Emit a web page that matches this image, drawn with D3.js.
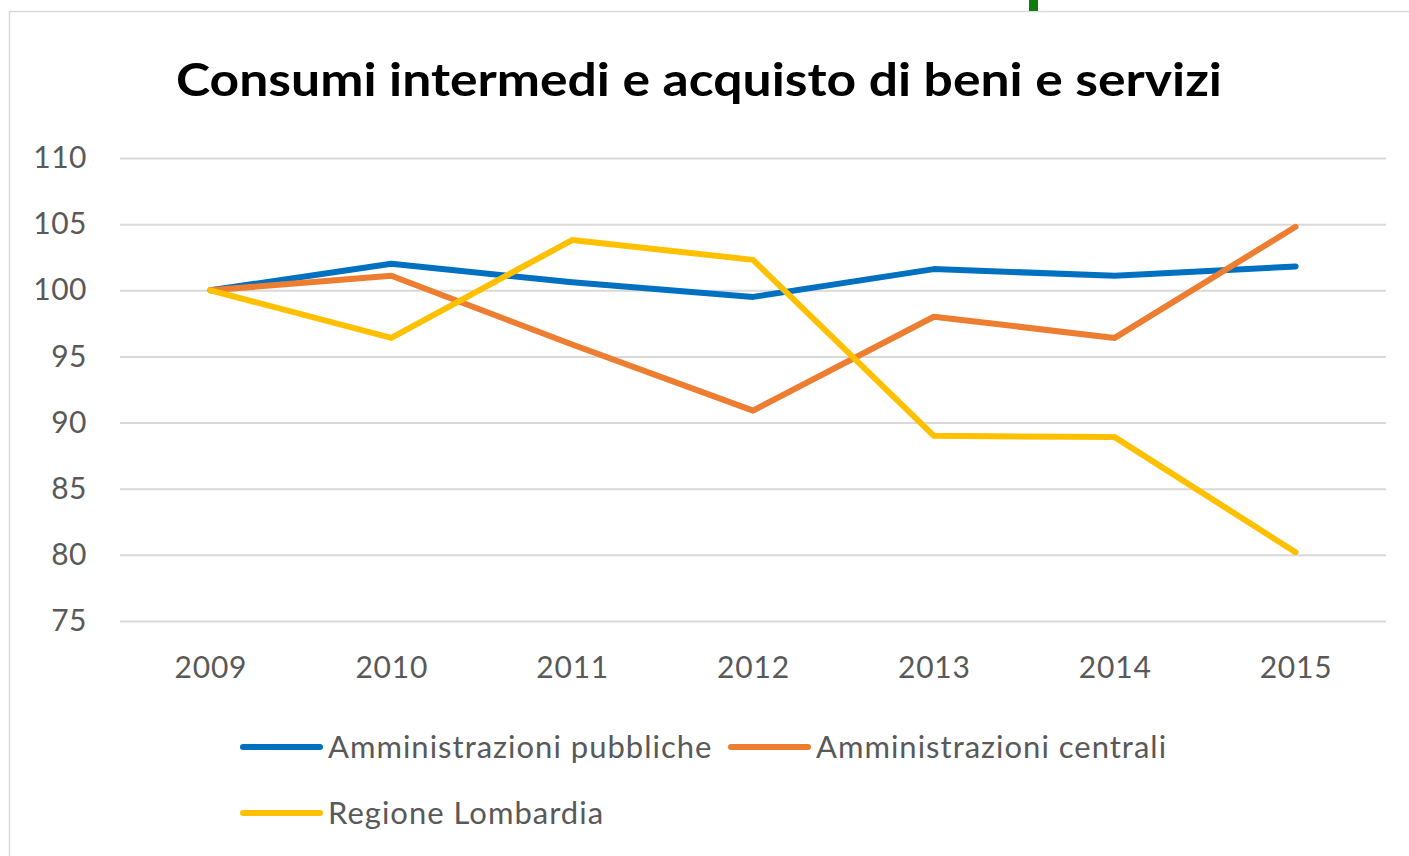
<!DOCTYPE html>
<html>
<head>
<meta charset="utf-8">
<script src="https://cdn.jsdelivr.net/npm/d3@7"></script>
<style>
  html, body { margin: 0; padding: 0; background: #fff; }
  svg { display: block; font-family: Lato, "Open Sans", sans-serif; }
</style>
</head>
<body>
<svg id="chart" width="1409" height="856"></svg>
<script>
// values
const years = ["2009", "2010", "2011", "2012", "2013", "2014", "2015"];
const pubbliche = [100, 102.0, 100.6, 99.5, 101.6, 101.1, 101.8];
const centrali = [100, 101.1, 95.9, 90.9, 98.0, 96.4, 104.8];
const lombardia = [100, 96.4, 103.8, 102.3, 89.0, 88.9, 80.2];
const yTicks = [75, 80, 85, 90, 95, 100, 105, 110];

const series = [
  { name: "Amministrazioni pubbliche", values: pubbliche, color: "#0070C0" },
  { name: "Amministrazioni centrali", values: centrali, color: "#ED7D31" },
  { name: "Regione Lombardia", values: lombardia, color: "#FFC000" }
];

const width = 1409, height = 856;
const margin = { top: 158, right: 23, bottom: 235, left: 120 };

const svg = d3.select("#chart");

// outer frame (chart area continues past the window)
svg.append("rect")
  .attr("x", 9.5).attr("y", 11.5)
  .attr("width", width + 20).attr("height", height + 20)
  .attr("fill", "none")
  .attr("stroke", "#D9D9D9")
  .attr("stroke-width", 1.5);

// little green mark above the frame
svg.append("rect")
  .attr("x", 1029).attr("y", 0)
  .attr("width", 9).attr("height", 11)
  .attr("fill", "#107C10");

// title
svg.append("text")
  .attr("x", 699).attr("y", 96)
  .attr("text-anchor", "middle")
  .attr("font-size", 46)
  .attr("font-weight", 700)
  .attr("fill", "#000")
  .attr("textLength", 1046)
  .attr("lengthAdjust", "spacingAndGlyphs")
  .text("Consumi intermedi e acquisto di beni e servizi");

const x = d3.scalePoint()
  .domain(years)
  .range([margin.left, width - margin.right])
  .padding(0.5);

const y = d3.scaleLinear()
  .domain([75, 110])
  .range([height - margin.bottom, margin.top]);

// gridlines + y labels
const yAxis = svg.append("g")
  .attr("transform", `translate(${margin.left},0)`)
  .call(d3.axisLeft(y).tickValues(yTicks).tickSize(-(width - margin.left - margin.right)).tickPadding(33));
yAxis.select(".domain").remove();
yAxis.selectAll(".tick line").attr("stroke", "#D9D9D9").attr("stroke-width", 2);
yAxis.selectAll(".tick text")
  .attr("fill", "#595959")
  .attr("font-size", 30)
  .attr("letter-spacing", 0.5)
  .attr("font-family", "Lato, 'Open Sans', sans-serif");

// x labels
const xAxis = svg.append("g")
  .attr("transform", `translate(0,${height - margin.bottom})`)
  .call(d3.axisBottom(x).tickSize(0).tickPadding(36));
xAxis.select(".domain").remove();
xAxis.selectAll(".tick text")
  .attr("fill", "#595959")
  .attr("font-size", 30)
  .attr("letter-spacing", 0.8)
  .attr("font-family", "Lato, 'Open Sans', sans-serif");

// lines
const line = d3.line()
  .x((d, i) => x(years[i]))
  .y(d => y(d));

svg.append("g")
  .selectAll("path")
  .data(series)
  .join("path")
  .attr("d", d => line(d.values))
  .attr("fill", "none")
  .attr("stroke", d => d.color)
  .attr("stroke-width", 6)
  .attr("stroke-linejoin", "round")
  .attr("stroke-linecap", "round");

// legend
const legendPos = [
  { lx: 243, ly: 747 },
  { lx: 731, ly: 747 },
  { lx: 243, ly: 813 }
];
const legend = svg.append("g")
  .selectAll("g")
  .data(series)
  .join("g")
  .attr("transform", (d, i) => `translate(${legendPos[i].lx},${legendPos[i].ly})`);

legend.append("line")
  .attr("x1", 0).attr("x2", 77)
  .attr("stroke", d => d.color)
  .attr("stroke-width", 6)
  .attr("stroke-linecap", "round");

legend.append("text")
  .attr("x", 85)
  .attr("dy", "0.35em")
  .attr("fill", "#595959")
  .attr("font-size", 31)
  .attr("letter-spacing", 1)
  .text(d => d.name);
</script>
</body>
</html>
